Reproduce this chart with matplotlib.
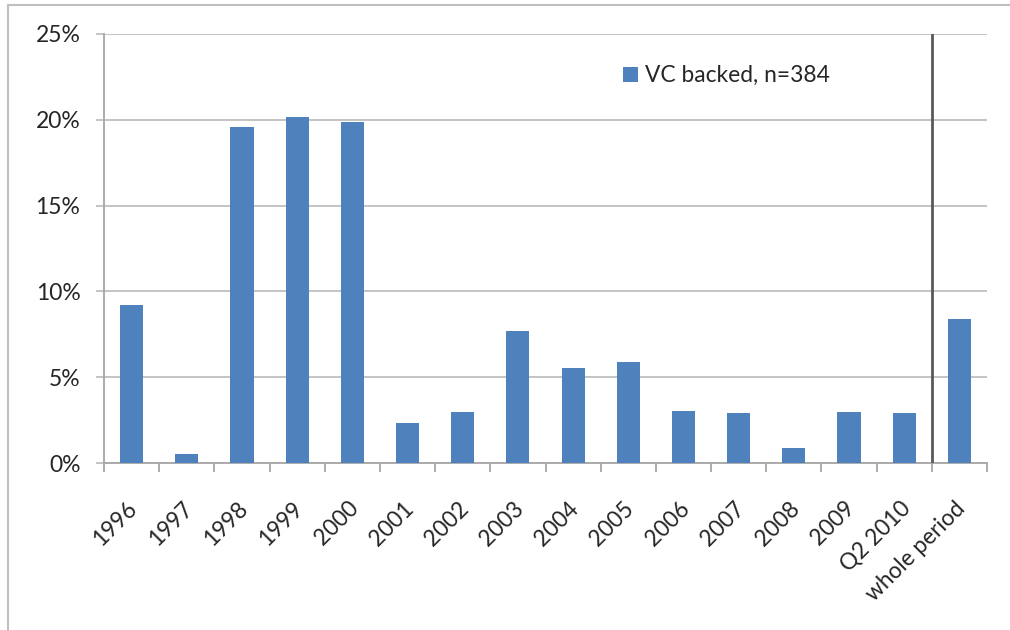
import matplotlib.pyplot as plt
from matplotlib.lines import Line2D
from matplotlib.transforms import ScaledTranslation
import numpy as np

categories = ['1996', '1997', '1998', '1999', '2000', '2001', '2002', '2003',
              '2004', '2005', '2006', '2007', '2008', '2009', 'Q2 2010', 'whole period']
values = [9.2, 0.5, 19.6, 20.15, 19.9, 2.35, 3.0, 7.7,
          5.55, 5.9, 3.05, 2.9, 0.9, 3.0, 2.9, 8.4]
yticks = [0, 5, 10, 15, 20, 25]
legend_label = 'VC backed, n=384'

plt.rcParams['font.family'] = ['Lato', 'DejaVu Sans']

fig = plt.figure(figsize=(10.1, 6.3), dpi=100)
W, H = 1010, 630
ax = fig.add_axes([104 / W, 1 - 463 / H, (987 - 104) / W, (463 - 34) / H])

x = np.arange(len(categories))
ax.bar(x, values, width=0.42, color='#4F81BD', label=legend_label, zorder=3)

ax.set_xlim(-0.5, len(categories) - 0.5)
ax.set_ylim(0, 25)
ax.set_yticks(yticks)
ax.set_yticklabels([f'{v}%' for v in yticks], fontsize=16.5, color='#262626')
ax.yaxis.grid(True, color='#BFBFBF', linewidth=1.3, zorder=0)
ax.set_axisbelow(True)

ax.set_xticks(x)
ax.set_xticklabels(categories, rotation=45, ha='right', rotation_mode='anchor',
                   fontsize=16.3, color='#262626')
ax.set_xticks(np.arange(len(categories) + 1) - 0.5, minor=True)
ax.tick_params(axis='x', which='major', length=0, pad=22)
ax.tick_params(axis='x', which='minor', length=6.5, color='#A6A6A6', width=1.3)
ax.tick_params(axis='y', length=6, color='#BFBFBF', width=1.3, pad=11)

# nudge the rotated labels a little left and down
shift = ScaledTranslation(-5 / 100, -4 / 100, fig.dpi_scale_trans)
for lbl in ax.get_xticklabels():
    lbl.set_transform(lbl.get_transform() + shift)

for s in ['top', 'right']:
    ax.spines[s].set_visible(False)
for s in ['left', 'bottom']:
    ax.spines[s].set_color('#A6A6A6')
    ax.spines[s].set_linewidth(1.3)

# separator before the whole-period bar
ax.axvline(len(categories) - 1.5, color='#595959', linewidth=2, zorder=4)

ax.legend(loc='upper left', bbox_to_anchor=(0.565, 0.975), frameon=False,
          fontsize=16.4, handlelength=0.65, handleheight=0.65, handletextpad=0.3,
          labelcolor='#262626')

# figure border (left and top edges)
fig.add_artist(Line2D([8 / W, 8 / W], [0, 1 - 5 / H], color='#BFBFBF', linewidth=1.5))
fig.add_artist(Line2D([8 / W, 1], [1 - 5 / H, 1 - 5 / H], color='#BFBFBF', linewidth=1.5))

fig.savefig('out.png', dpi=100)
